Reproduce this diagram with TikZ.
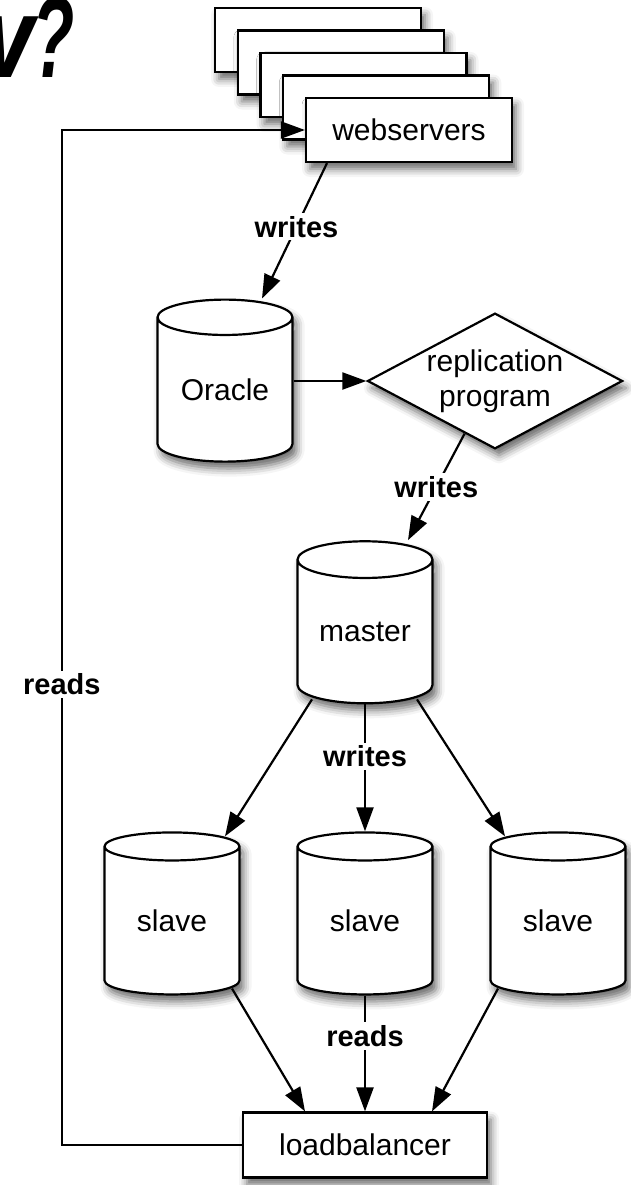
\documentclass[tikz,border=0pt]{standalone}
\usepackage{fontspec}
\setmainfont{Liberation Sans}
\usepackage{tikz}
\usetikzlibrary{shapes.geometric,arrows.meta,shadows.blur}
\tikzset{soft/.style={blur shadow={shadow xshift=4pt,shadow yshift=-7pt,shadow blur radius=8pt,shadow opacity=60}}}
\tikzset{srv/.style={rectangle,draw,fill=white,minimum width=206pt,minimum height=64pt,soft}}
\tikzset{db/.style={cylinder,shape border rotate=90,aspect=0.4,draw,fill=white,minimum width=135pt,minimum height=162pt,inner sep=0pt,soft}}
\tikzset{prog/.style={diamond,aspect=1.88,draw,fill=white,align=center,inner sep=0pt,minimum width=254pt,minimum height=135pt,soft}}
\tikzset{lbl/.style={fill=white,inner sep=3pt,font=\fontsize{29}{35}\selectfont\bfseries}}

\begin{document}
\begin{tikzpicture}[x=1pt,y=-1pt,line width=2.2pt,>={Triangle[length=24pt,width=17pt]},
    every node/.append style={font=\fontsize{30}{35}\selectfont}]
    \useasboundingbox (0,0) rectangle (630,1185);

    \node[anchor=base east,inner sep=0pt,font=\fontsize{115}{115}\selectfont\bfseries\itshape] (title) at (76,78) {w\scalebox{0.6}[1]{?}};

    % stack of webservers
    \foreach \i in {1,...,4}
        \node[srv] (ws\i) at ({409-22.75*(5-\i)},{130-22.5*(5-\i)}) {};
    \node[srv] (ws5) at (409,130) {webservers};

    \node[db] (oracle) at (225,390) {Oracle};
    \node[prog] (repl) at (495,381) {replication\\program};
    \node[db] (master) at (365,632) {master};
    \node[db] (sl1) at (172,921) {slave};
    \node[db] (sl2) at (365,921) {slave};
    \node[db] (sl3) at (558,921) {slave};
    \node[srv,minimum width=244pt,minimum height=65pt] (lb) at (365,1145) {loadbalancer};

    \draw [->] ([xshift=-82pt]ws5.south) to node[lbl,pos=0.47]{writes} ([xshift=37pt]oracle.north);
    \draw [->] (oracle.east |- repl.west) to (repl.west);
    \draw [->] (repl.240) to node[lbl]{writes} ([xshift=43pt]master.north);
    \draw [->] ([xshift=-53pt,yshift=5pt]master.south) to ([xshift=53pt,yshift=-5pt]sl1.north);
    \draw [->] (master.south) to node[lbl,pos=0.41]{writes} (sl2.north);
    \draw [->] ([xshift=52pt,yshift=5pt]master.south) to ([xshift=-53pt,yshift=-5pt]sl3.north);
    \draw [->] ([xshift=60pt,yshift=7pt]sl1.south) to ([xshift=-60pt]lb.north);
    \draw [->] (sl2.south) to node[lbl,pos=0.35]{reads} (lb.north);
    \draw [->] ([xshift=-60pt,yshift=7pt]sl3.south) to ([xshift=67pt]lb.north);
    \draw [->] (lb.west) -- ++(-180pt,0) |- node[lbl,pos=0.227]{reads} (ws5.west);
\end{tikzpicture}
\end{document}
